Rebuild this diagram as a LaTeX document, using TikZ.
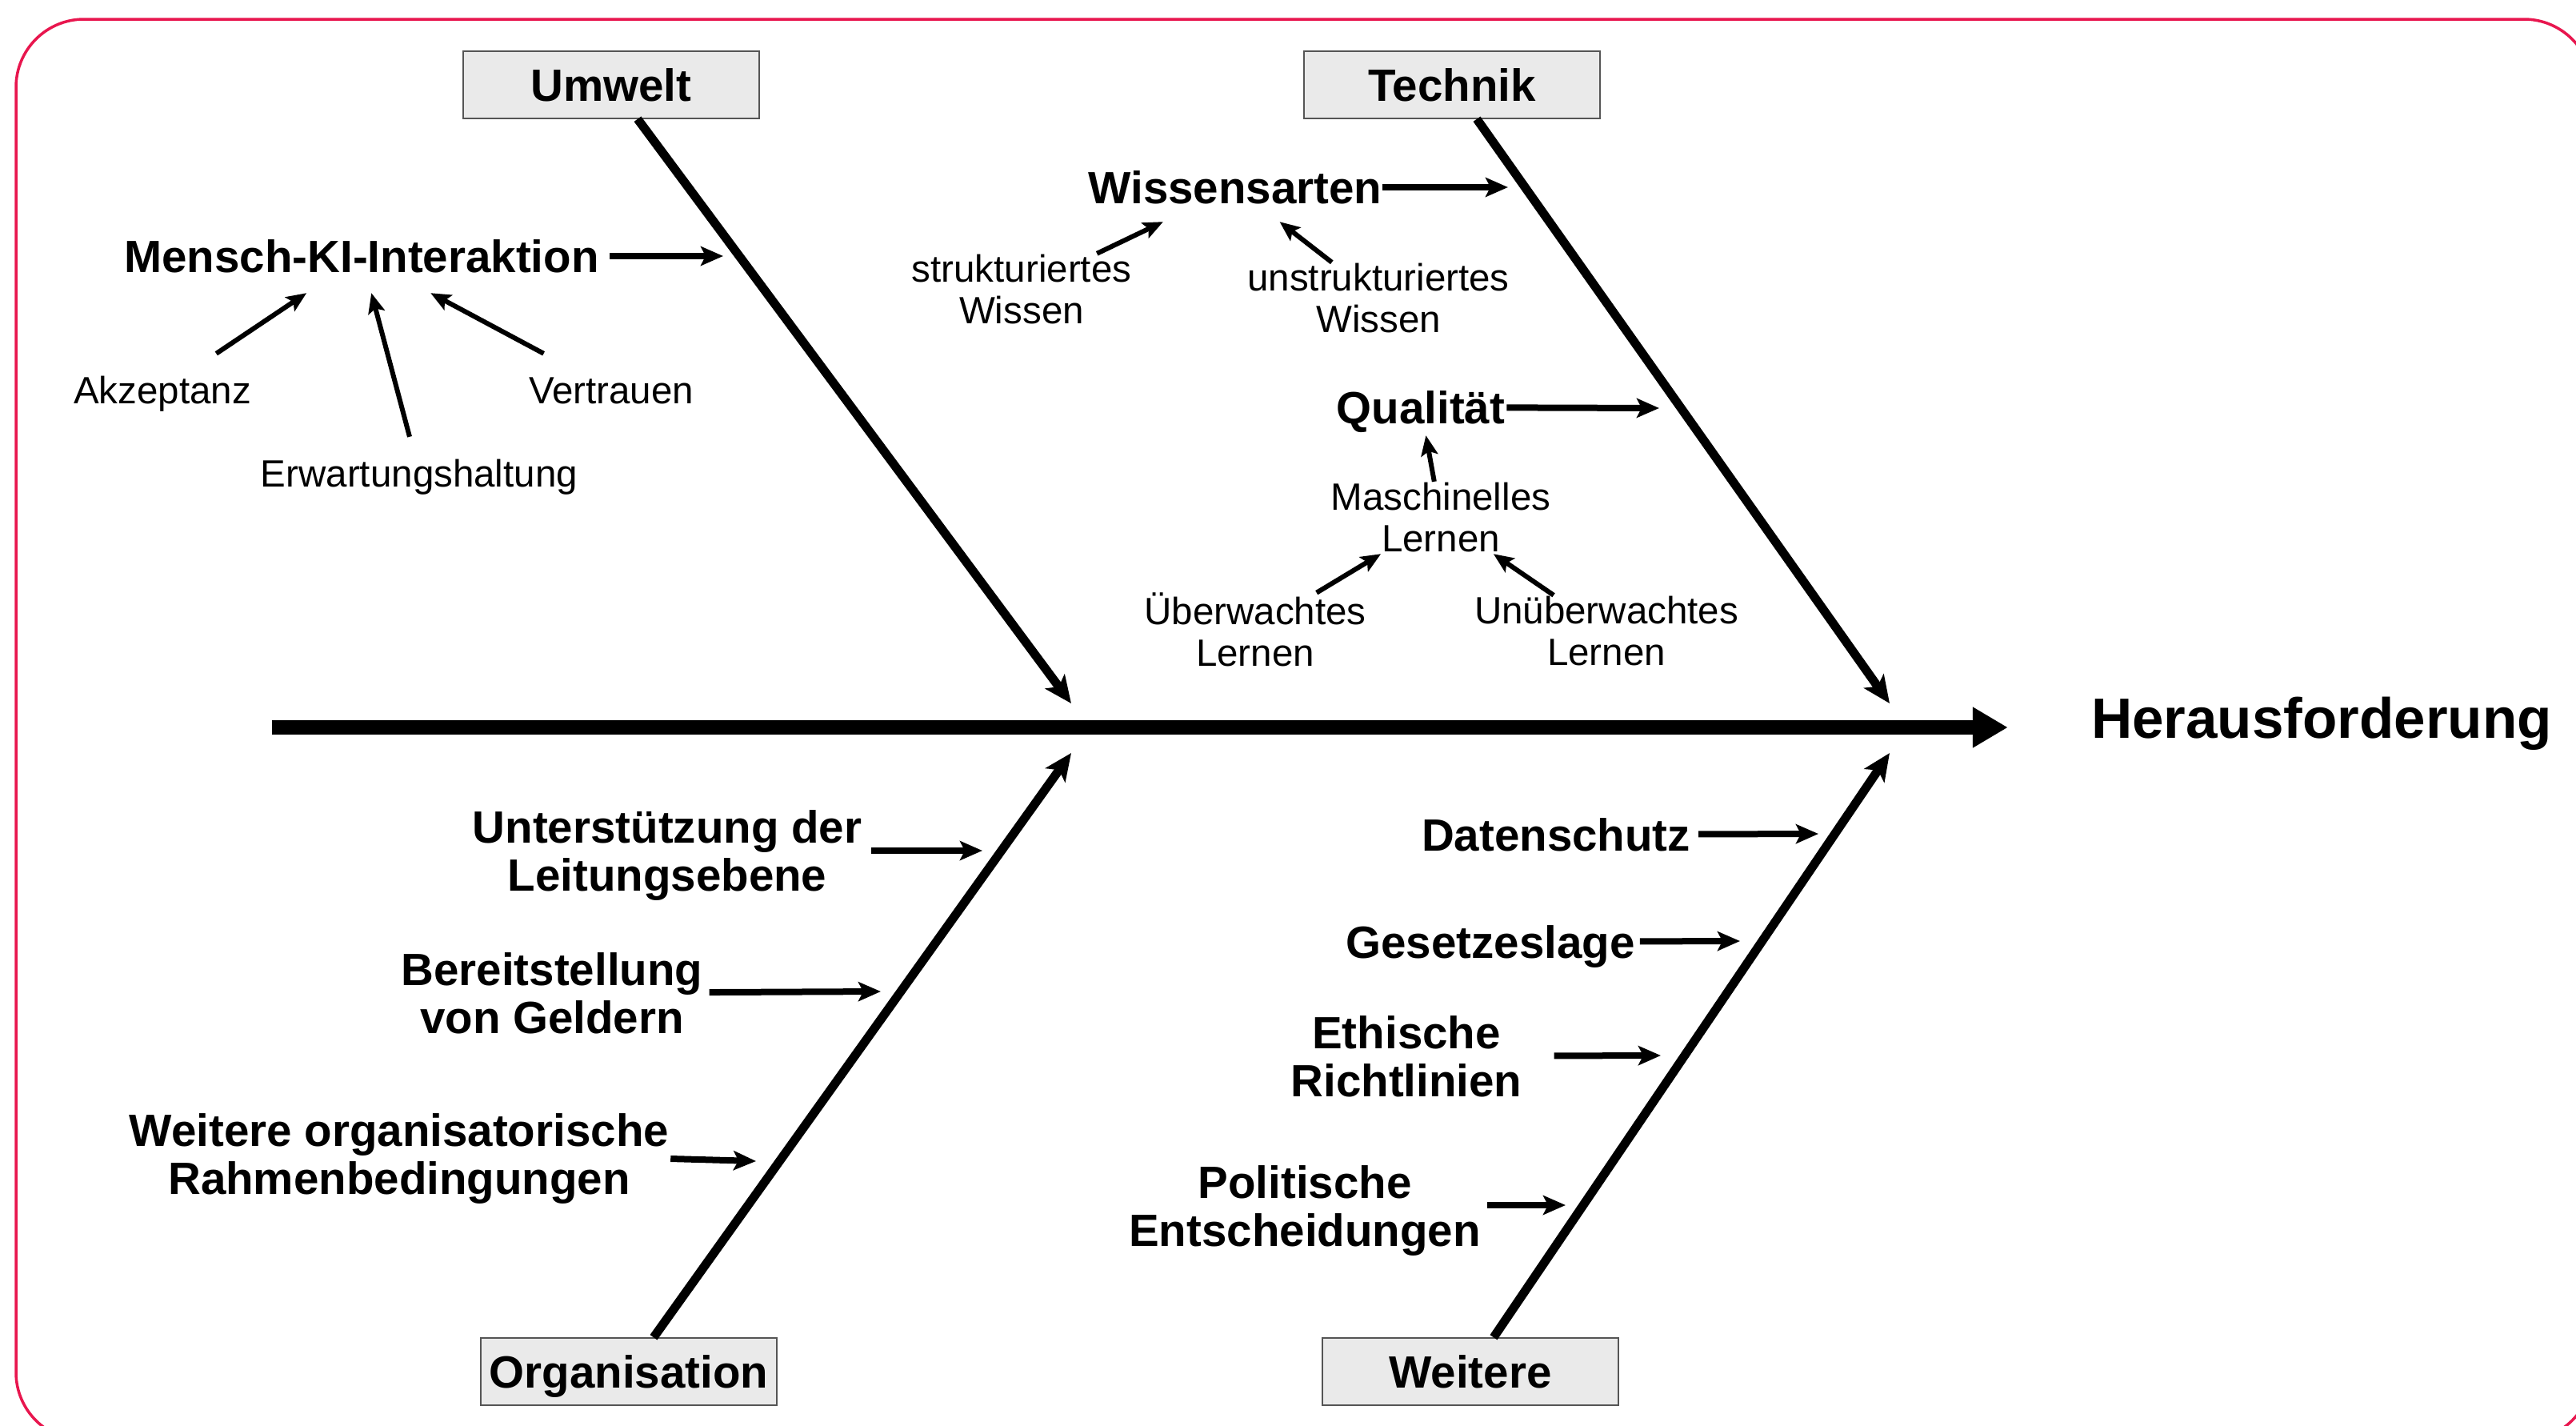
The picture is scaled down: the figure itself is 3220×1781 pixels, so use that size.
\documentclass[tikz,border=0pt]{standalone}
\usepackage{fontspec}
\setmainfont{Liberation Sans}
\usetikzlibrary{arrows.meta}
\definecolor{framered}{HTML}{E8164E}
\definecolor{boxgray}{HTML}{EAEAEA}
\definecolor{boxline}{HTML}{555555}

\begin{document}
\begin{tikzpicture}[x=1pt, y=-1pt,
    category/.style={draw=boxline, line width=1.5pt, fill=boxgray, minimum width=370pt, minimum height=84pt,
        inner sep=0pt, text height=40.5pt, text depth=0pt, font=\fontsize{56.5}{60}\selectfont\bfseries},
    cause/.style={align=center, inner ysep=0pt, inner xsep=4pt, minimum height=88pt, font=\fontsize{56.5}{60}\selectfont\bfseries},
    subcause/.style={align=center, inner ysep=0pt, inner xsep=2pt, minimum height=90pt, font=\fontsize{47.5}{52}\selectfont},
    oneline/.style={text height=34pt, text depth=0pt},
    onelinebf/.style={text height=40.5pt, text depth=0pt},
    spine/.style={line width=18pt, -{Triangle[length=44pt, width=48pt]}},
    bone/.style={line width=11pt, -{Stealth[length=34pt, width=30pt, inset=8pt]}},
    causearrow/.style={line width=8pt, -{Stealth[length=28pt, width=24pt, inset=6pt]}},
    subarrow/.style={line width=6pt, -{Stealth[length=25pt, width=21pt, inset=5pt]}}]

    \useasboundingbox (0,0) rectangle (3220,1781);

    % Frame
    \begin{scope}
        \clip (0,0) rectangle (3220,1781);
        \draw[framered, line width=3.5pt, rounded corners=85pt] (20,24) rectangle (3240,1800);
    \end{scope}

    % Categories
    \node[category] (umwelt) at (764,106) {Umwelt};
    \node[category] (technik) at (1815,106) {Technik};
    \node[category] (orga) at (786,1714) {Organisation};
    \node[category] (weitere) at (1838,1714) {Weitere};

    % Effect and spine
    \node[inner sep=0pt, text height=51pt, text depth=0pt, font=\fontsize{71}{76}\selectfont\bfseries] (effect) at (2902,897) {Herausforderung};
    \coordinate (tail) at (340,909);
    \draw[spine, shorten >=104pt] (tail) -- (tail -| effect.west);

    % Bones
    \coordinate (j1) at (1339,879);
    \coordinate (j2) at (2362,879);
    \coordinate (j3) at (1339,941);
    \coordinate (j4) at (2362,941);
    \draw[bone] ([xshift=33pt]umwelt.south) -- (j1);
    \draw[bone] ([xshift=31pt]technik.south) -- (j2);
    \draw[bone] ([xshift=31pt]orga.north) -- (j3);
    \draw[bone] ([xshift=29pt]weitere.north) -- (j4);

    % Umwelt
    \node[cause, onelinebf, minimum height=92pt, inner xsep=13pt] (mki) at (452,320) {Mensch-KI-Interaktion};
    \node[subcause, oneline] (akz) at (203,487) {Akzeptanz};
    \node[subcause, oneline] (erw) at (524,591) {Erwartungshaltung};
    \node[subcause, oneline] (vert) at (764,487) {Vertrauen};
    \coordinate (mkiend) at (904,320);
    \draw[causearrow] (mki) -- (mkiend);
    \draw[subarrow] (akz) -- (mki);
    \draw[subarrow] (erw) -- (mki);
    \draw[subarrow] (vert) -- (mki);

    % Technik
    \node[cause, onelinebf, minimum height=86pt, inner xsep=0pt] (wiss) at (1544,234) {Wissensarten};
    \node[subcause] (strukt) at (1277,362) {strukturiertes\\Wissen};
    \node[subcause] (unstrukt) at (1723,373) {unstrukturiertes\\Wissen};
    \coordinate (wissend) at (1885,234);
    \draw[causearrow] (wiss) -- (wissend);
    \draw[subarrow] (strukt) -- (wiss);
    \draw[subarrow] (unstrukt) -- (wiss);

    \node[cause, onelinebf, minimum height=70pt, inner xsep=2pt] (qual) at (1776,509) {Qualität};
    \node[subcause] (masch) at (1801,647) {Maschinelles\\Lernen};
    \node[subcause] (ueber) at (1569,787) {Überwachtes\\Lernen};
    \node[subcause] (unueber) at (2008,789) {Unüberwachtes\\Lernen};
    \coordinate (qualend) at (2074,510);
    \draw[causearrow] (qual) -- (qualend);
    \draw[subarrow] (masch) -- (qual);
    \draw[subarrow] (ueber) -- (masch);
    \draw[subarrow] (unueber) -- (masch);

    % Organisation
    \node[cause, inner xsep=12pt] (unterst) at (834,1069) {Unterstützung der\\Leitungsebene};
    \node[cause, inner xsep=8pt] (bereit) at (690,1241) {Bereitstellung\\von Geldern};
    \node[cause, inner xsep=2pt] (weitorg) at (499,1448) {Weitere organisatorische\\Rahmenbedingungen};
    \coordinate (unterstend) at (1228,1063);
    \coordinate (bereitend) at (1101,1239);
    \coordinate (weitorgend) at (945,1451);
    \draw[causearrow] (unterst.east |- unterstend) -- (unterstend);
    \draw[causearrow] (bereit) -- (bereitend);
    \draw[causearrow] (weitorg.east) -- (weitorgend);

    % Weitere
    \node[cause, onelinebf, inner xsep=10pt] (daten) at (1945,1043) {Datenschutz};
    \node[cause, onelinebf, inner xsep=6pt] (gesetz) at (1863,1177) {Gesetzeslage};
    \node[cause, inner xsep=40pt] (ethik) at (1758,1320) {Ethische\\Richtlinien};
    \node[cause, inner xsep=8pt] (polit) at (1631,1513) {Politische\\Entscheidungen};
    \coordinate (datenend) at (2273,1042);
    \coordinate (gesetzend) at (2175,1176);
    \coordinate (ethikend) at (2076,1319);
    \coordinate (politend) at (1957,1506);
    \draw[causearrow] (daten) -- (datenend);
    \draw[causearrow] (gesetz) -- (gesetzend);
    \draw[causearrow] (ethik) -- (ethikend);
    \draw[causearrow] (polit.east |- politend) -- (politend);
\end{tikzpicture}
\end{document}
